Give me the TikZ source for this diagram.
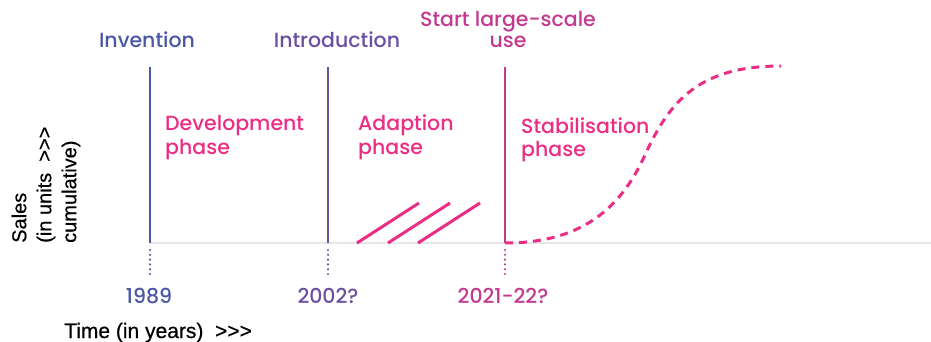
\documentclass[tikz,border=0pt]{standalone}
\usepackage{fontspec}
\setmainfont{Liberation Sans}
\newfontfamily\pop{Poppins Medium}
\newfontfamily\axf{Liberation Sans}[FakeBold=0.6]
\definecolor{cInv}{HTML}{4A56A6}
\definecolor{cIntro}{HTML}{6B4FA3}
\definecolor{cStart}{HTML}{C23A90}
\definecolor{cPink}{HTML}{EC2D85}
\definecolor{cAxis}{HTML}{E6E6E6}
\newcommand{\gtgtgt}{>\kern0pt>\kern0pt>}
\tikzset{
  lab/.style={font=\pop\fontsize{20.5}{24}\selectfont, inner sep=0pt},
  vline/.style={line width=2.5pt},
  dotline/.style={line width=2.4pt, dash pattern=on 0pt off 4.8pt, line cap=round},
  hatch/.style={line width=3pt, color=cPink},
  scurve/.style={line width=3pt, color=cPink, dash pattern=on 8pt off 6pt},
  axisline/.style={line width=2.5pt, color=cAxis},
  blk/.style={inner sep=0pt, text=black}
}
\begin{document}
\begin{tikzpicture}[x=1pt,y=-1pt]
\useasboundingbox (0,0) rectangle (931,342);
% axis
\coordinate (ax0) at (150,243);
\coordinate (ax1) at (931,243);
\draw[axisline] (ax0) -- (ax1);
% milestones
\coordinate (invT) at (150,67);  \coordinate (invB) at (150,243);
\coordinate (intT) at (328,67);  \coordinate (intB) at (328,243);
\coordinate (stT)  at (505,67);  \coordinate (stB)  at (505,243);
\draw[vline, cInv] (invT) -- (invB);
\draw[vline, cIntro] (intT) -- (intB);
\draw[vline, cStart] (stT) -- (stB);
\coordinate (invD0) at (150,250); \coordinate (invD1) at (150,274);
\coordinate (intD0) at (328,250); \coordinate (intD1) at (328,274);
\coordinate (stD0)  at (505,250); \coordinate (stD1)  at (505,274);
\draw[dotline, cInv] (invD0) -- (invD1);
\draw[dotline, cIntro] (intD0) -- (intD1);
\draw[dotline, cStart] (stD0) -- (stD1);
% hatches
\coordinate (h1a) at (357,243); \coordinate (h1b) at (419,203);
\coordinate (h2a) at (388,243); \coordinate (h2b) at (450,203);
\coordinate (h3a) at (418,243); \coordinate (h3b) at (480,203);
\draw[hatch] (h1a) -- (h1b);
\draw[hatch] (h2a) -- (h2b);
\draw[hatch] (h3a) -- (h3b);
% S-curve
\coordinate (c0) at (505,243);
\coordinate (cm) at (645,155);
\coordinate (c1) at (781,66);
\draw[scurve] (c0) .. controls (580,243) and (620,210) .. (cm)
  .. controls (670,100) and (700,66) .. (c1);
% labels top
\node[lab, text=cInv, anchor=base] (linv) at (147,48) {Invention};
\node[lab, text=cIntro, anchor=base] (lint) at (337,48) {Introduction};
\node[lab, text=cStart, anchor=base, align=center] (lst) at (508,48) {Start large-scale\\[-3pt]use};
% phases
\node[lab, text=cPink, anchor=base west, align=left] (pdev) at (165,154) {Development\\phase};
\node[lab, text=cPink, anchor=base west, align=left] (pada) at (358,154) {Adaption\\phase};
\node[lab, text=cPink, anchor=base west, align=left] (psta) at (521,157) {Stabilisation\\phase};
% years
\node[lab, text=cInv, anchor=base] (y1) at (149,303) {1989};
\node[lab, text=cIntro, anchor=base] (y2) at (328,303) {2002?};
\node[lab, text=cStart, anchor=base] (y3) at (503,303) {2021-22?};
% axis titles
\node[blk, font=\axf\fontsize{21}{24}\selectfont, anchor=base west] (tx) at (64,338) {Time (in years)\ \ \gtgtgt};
\node[blk, font=\axf\fontsize{20}{25}\selectfont, rotate=90, anchor=north west, align=left] (ty) at (11.5,243) {Sales\\(in units\ \ \gtgtgt\\cumulative)};
\end{tikzpicture}
\end{document}
